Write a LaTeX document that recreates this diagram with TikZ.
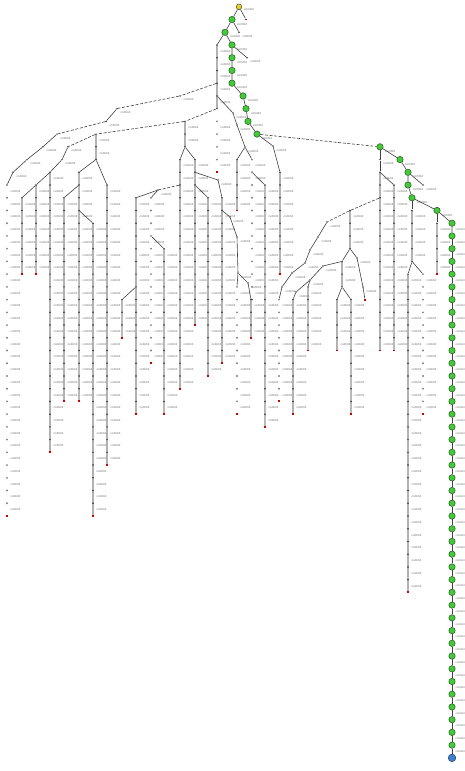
\documentclass[tikz,border=0pt]{standalone}
\usepackage{fontspec}
\setmainfont{Liberation Sans}
\usetikzlibrary{calc}
\definecolor{gfill}{HTML}{44C93A}
\definecolor{gdark}{HTML}{1F5A18}
\definecolor{bfill}{HTML}{3F7FD0}
\definecolor{bdark}{HTML}{1B3F70}
\definecolor{yfill}{HTML}{E6D41E}
\newcommand\rowy[1]{(6.8+12.73*(#1))}
\tikzset{
 colline/.style={draw=gray!60, line width=1.5pt},
 colthick/.style={draw=gray!55, line width=2.5pt},
 conn/.style={draw=black!75, line width=0.6pt},
 dconn/.style={conn, dash pattern=on 3pt off 1.6pt},
 cdot/.style={circle, fill=black!80, inner sep=0pt, minimum size=1.7pt},
 mdot/.style={circle, fill=black!50, inner sep=0pt, minimum size=2.1pt},
 rdot/.style={rectangle, fill=red!80!black, inner sep=0pt, minimum size=1.9pt},
 lbl/.style={anchor=west, inner sep=0pt, text=black!60, font=\fontsize{3}{3.5}\selectfont},
 slbl/.style={anchor=west, inner sep=0pt, text=black!60, font=\fontsize{2.8}{3.2}\selectfont},
 gnode/.style={circle, draw=gdark, fill=gfill, line width=0.5pt, inner sep=0pt, minimum size=6.4pt},
 bnode/.style={circle, draw=bdark, fill=bfill, line width=0.5pt, inner sep=0pt, minimum size=7.6pt},
 ynode/.style={circle, draw=black!70, fill=yfill, line width=0.5pt, inner sep=0pt, minimum size=5.6pt}
}
\begin{document}
\begin{tikzpicture}[x=1pt,y=-1pt]
\useasboundingbox (0,0) rectangle (465,771);
% ---------- columns ----------
\foreach \cn/\cx/\ra/\rb/\tp/\ce in {
a1/7/14/40/0/1, a2/22/15/21/1/1, a3/36/14/21/2/1, a4/50/13/35/1/1, a5/64/15/31/1/1, a6/79/13/31/2/1, a7/93/17/40/1/1, a8/96/10/12/1/0, a9/107/14/36/1/1,
b1/122/23/26/2/1, b2/136/15/32/1/1, b3/151/15/28/0/1, b4/164/19/32/2/1, b5/180/12/30/1/1, b6/185/9/11/1/0, b7/195/12/25/1/1, b8/208/15/29/1/1, b9/222/15/28/1/1, b10/217/3/8/1/0, b11/217/9/13/0/1, b12/237/12/16/1/1, b13/237/22/32/0/1,
d1/252/12/23/0/0, d2/251/23/26/1/1, d3/265/14/33/2/1, d4/280/13/21/1/1, d5/279/23/31/0/1, d6/293/23/32/1/1, d7/308/22/27/2/1, d8/337/23/27/1/1, d9/351/23/32/2/1, d10/350/16/19/1/0, d11/342/20/22/1/0,
e1/380/13/27/1/1, e2/394/14/27/2/1, e3/412/16/20/1/0, e4/408/21/46/1/1, e5/423/21/32/0/1, e6/437/17/21/2/1}
{
 \coordinate (\cn-t) at (\cx,{\rowy{\ra}});
 \coordinate (\cn-b) at (\cx,{\rowy{\rb}});
 \ifnum\tp=1 \draw[colline] (\cn-t)--(\cn-b);\fi
 \ifnum\tp=2 \draw[colthick] (\cn-t)--(\cn-b);\fi
 \foreach \r in {\ra,...,\rb}{
   \ifnum\r<\rb
     \ifnum\tp=0
       \node[mdot] (\cn-\r) at (\cx,{\rowy{\r}}) {};
     \else
       \node[cdot] (\cn-\r) at (\cx,{\rowy{\r}}) {};
     \fi
     \node[lbl] at (\cx+3.5,{\rowy{\r}+6.3}) {commit};
   \else
     \ifnum\ce=1
       \node[rdot] (\cn-\r) at (\cx,{\rowy{\r}}) {};
     \else
       \node[cdot] (\cn-\r) at (\cx,{\rowy{\r}}) {};
     \fi
   \fi
 }
}
% ---------- chain points ----------
\foreach \n/\x/\y in {A1/180/95.9, A2/117/108.6, A3/106/121.4, A4/57/134.1, A5/43/146.8, A6/27/159.6, A7/13/172.3,
 B1/68/146.8, B2/62/159.6, B3/158/190, C1/218/180, C2/230/217, C3/237/237, C4/238/273, C5/248/283,
 E1/233/113, E2/237/125, E3/245/147, F1/273/146, D2/327/222, D3/318/237, D4/310/250, D5/305/263, D6/292/273, D7/282/287,
 H1/357/258, H2/363/287, G1/323/266, G2/310/280, G3/296/292, R1/380/159.6, s1/239/32.3, s2/247/57.7, s3/423/185}
{
 \node[cdot] (\n) at (\x,\y) {};
 \node[lbl] at (\x+3.5,\y+4) {commit};
}
\node[rdot] (s0) at (246,19.5) {};
\node[rdot] (H3) at (365,299.6) {};
% ---------- main chain ----------
\node[ynode] (g0) at (239,{\rowy{0}}) {};
\node[lbl] at (244,{\rowy{0}+3}) {commit};
\foreach \i/\x in {1/232, 2/225, 3/232, 4/232, 5/232, 6/232, 7/243, 8/246, 9/248, 10/257, 11/380, 12/400, 13/408, 14/408, 15/412, 16/437}
{
 \node[gnode] (g\i) at (\x,{\rowy{\i}}) {};
 \node[lbl] at (\x+5,{\rowy{\i}+4.5}) {commit};
}
\node[gnode] (g17) at (452,{\rowy{17}}) {};
\node[slbl] at (455.5,{\rowy{17}+6.3}) {commit};
\foreach \r in {18,...,58}
{
 \node[gnode] (m\r) at (452,{\rowy{\r}}) {};
 \node[slbl] at (455.5,{\rowy{\r}+6.3}) {commit};
}
\node[bnode] (m59) at (452,{\rowy{59}}) {};
\draw[conn] (g0)--(g1)--(g2)--(g3)--(g4)--(g5)--(g6)--(g7)--(g8)--(g9)--(g10);
\draw[dconn] (g10)--(g11);
\draw[conn] (g11)--(g12)--(g13)--(g14)--(g15)--(g16)--(g17)--(m18);
\foreach \r in {18,...,58}{
 \pgfmathtruncatemacro\s{\r+1}
 \draw[conn] (m\r)--(m\s);
}
% ---------- connectors ----------
\draw[conn] (g0)--(s0);
\draw[conn] (g1)--(s1);
\draw[conn] (g3)--(s2);
\draw[conn] (g13)--(s3);
\draw[conn] (g2)--(b10-3);
% chain A
\draw[dconn] (b10-6)--(A1)--(A2);
\draw[conn] (A2)--(A3);
\draw[dconn] (A3)--(A4);
\draw[conn] (A4)--(A5)--(A6)--(A7)--(a1-14);
% chain B
\draw[dconn] (b10-8)--(b6-9)--(a8-10)--(B1);
\draw[conn] (B1)--(B2)--(a4-13)--(a3-14)--(a2-15);
\draw[conn] (a8-12)--(a6-13);
\draw[conn] (a8-12)--(a9-14);
\draw[conn] (a6-14)--(a5-15);
\draw[conn] (a6-16)--(a7-17);
% middle left
\draw[conn] (b6-11)--(b5-12);
\draw[conn] (b6-11)--(b7-12);
\draw[conn] (b7-13)--(C1)--(b9-15);
\draw[conn] (b7-14)--(b8-15);
\draw[dconn] (b5-14)--(B3);
\draw[conn] (B3)--(b3-15);
\draw[conn] (B3)--(b2-15);
\draw[conn] (b3-18)--(b4-19);
\draw[conn] (b2-22)--(b1-23);
\draw[conn] (b9-16)--(C2)--(C3)--(C4)--(C5)--(d2-23);
\draw[conn] (C4)--(b13-22);
% chain E, F
\draw[conn] (b10-7)--(E1)--(E2)--(E3)--(b12-12);
\draw[conn] (E3)--(d1-12);
\draw[conn] (d1-13)--(d3-14);
\draw[conn] (g10)--(F1)--(d4-13);
% chain D
\draw[dconn] (e1-15)--(d10-16)--(D2);
\draw[conn] (D2)--(D3)--(D4)--(D5)--(D6)--(D7)--(d5-23);
\draw[conn] (d10-19)--(d11-20);
\draw[conn] (d10-19)--(H1)--(H2)--(H3);
\draw[conn] (d11-22)--(d8-23);
\draw[conn] (d11-22)--(d9-23);
\draw[conn] (d11-20)--(G1)--(G2)--(d7-22);
\draw[conn] (G2)--(G3)--(d6-23);
% right
\draw[conn] (g11)--(R1)--(e1-13);
\draw[conn] (e1-13)--(e2-14);
\draw[conn] (g15)--(e3-16);
\draw[conn] (e3-20)--(e4-21);
\draw[conn] (e3-20)--(e5-21);
\draw[conn] (g16)--(e6-17);
\end{tikzpicture}
\end{document}
